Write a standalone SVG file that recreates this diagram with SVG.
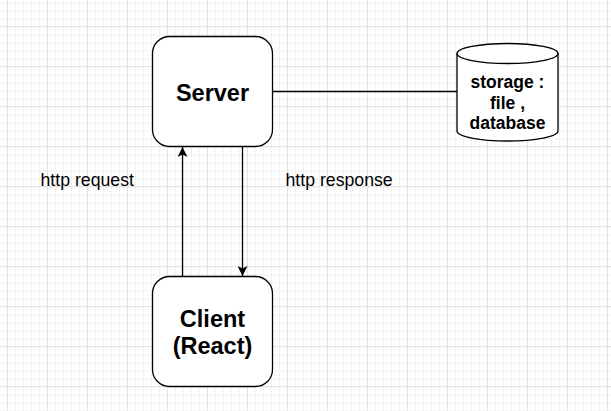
<svg xmlns="http://www.w3.org/2000/svg" width="611" height="411" viewBox="0 0 611 411">
<defs>
<pattern id="minor" width="8" height="8" patternUnits="userSpaceOnUse" x="7" y="2.5">
<path d="M0.5 0V8M0 0.5H8" stroke="#f1f1f1" stroke-width="1" fill="none"/>
</pattern>
<pattern id="major" width="40" height="40" patternUnits="userSpaceOnUse" x="7" y="26">
<path d="M0.5 0V40M0 0.5H40" stroke="#e3e3e3" stroke-width="1" fill="none"/>
</pattern>
<marker id="arr" viewBox="0 0 10 10" refX="10" refY="5" markerWidth="10" markerHeight="10" markerUnits="userSpaceOnUse" orient="auto">
<path d="M0 0L10 5L0 10L2.5 5Z" fill="#000"/>
</marker>
</defs>
<style>
.box{fill:#fff;stroke:#000;stroke-width:1.3}
.line{fill:none;stroke:#000;stroke-width:1.3}
.bold{font-family:"Liberation Sans",Arial,sans-serif;font-weight:bold;fill:#000;text-anchor:middle}
.lbl{font-family:"Liberation Sans",Arial,sans-serif;font-size:17.7px;fill:#000}
</style>
<rect width="611" height="411" fill="#fff"/>
<rect width="611" height="411" fill="url(#minor)"/>
<rect width="611" height="411" fill="url(#major)"/>
<g id="connectors">
<line class="line" x1="272.5" y1="91.5" x2="457" y2="91.5"/>
<line class="line" x1="182.5" y1="276.5" x2="182.5" y2="147" marker-end="url(#arr)"/>
<line class="line" x1="242.5" y1="146.5" x2="242.5" y2="276" marker-end="url(#arr)"/>
</g>
<g id="server">
<rect class="box" x="152.5" y="36.5" width="120" height="110" rx="17" ry="17"/>
<text class="bold" x="212.5" y="100.5" font-size="23.5">Server</text>
</g>
<g id="client">
<rect class="box" x="152.5" y="276.5" width="120" height="110" rx="17" ry="17"/>
<text class="bold" x="212.5" y="326.5" font-size="23.5">Client</text>
<text class="bold" x="212.5" y="353.5" font-size="23.5">(React)</text>
</g>
<g id="storage">
<path class="box" d="M457 53.5A50.5 10 0 0 1 558 53.5V131A50.5 10 0 0 1 457 131Z"/>
<path class="line" d="M457 53.5A50.5 10 0 0 0 558 53.5"/>
<text class="bold" x="507.5" y="88" font-size="17.5">storage :</text>
<text class="bold" x="507.5" y="108.5" font-size="17.5">file ,</text>
<text class="bold" x="507.5" y="129" font-size="17.5">database</text>
</g>
<g id="labels">
<text class="lbl" x="40.5" y="186">http request</text>
<text class="lbl" x="285.5" y="186">http response</text>
</g>
</svg>
